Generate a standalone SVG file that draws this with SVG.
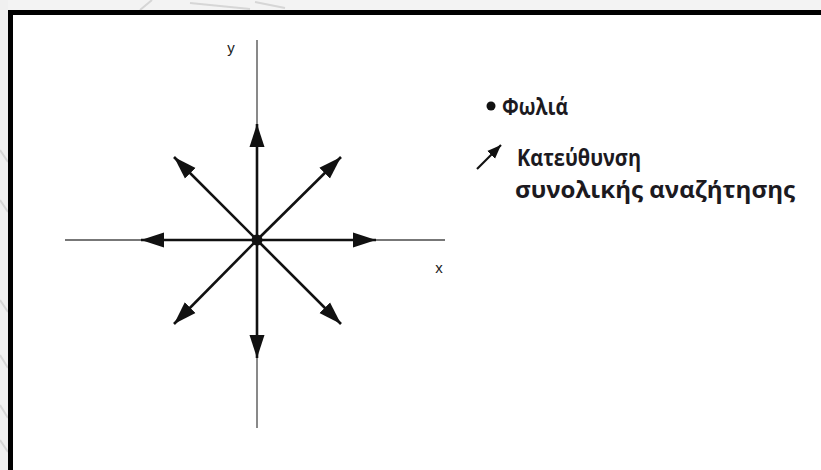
<svg xmlns="http://www.w3.org/2000/svg" width="821" height="470" viewBox="0 0 821 470">
  <defs>
    <style>
      .axis { stroke: #4a4a4a; stroke-width: 1.3; fill: none; }
      .dir { stroke: #111; stroke-width: 2.6; fill: none; marker-end: url(#head); }
      .lbl { font-family: "Liberation Sans", Arial, sans-serif; font-size: 15px; fill: #222; }
      .leg { font-family: "Open Sans", "Noto Sans", sans-serif; font-weight: 700; font-size: 23px; fill: #1c1a1f; }
      .bg { stroke: #d6d6d6; stroke-width: 2; fill: none; }
    </style>
    <marker id="head" markerUnits="userSpaceOnUse" markerWidth="24" markerHeight="16" viewBox="0 0 24 16" refX="23" refY="8" orient="auto">
      <path d="M0,0.5 L23,8 L0,15.5 Z" fill="#111"/>
    </marker>
    <marker id="headSmall" markerUnits="userSpaceOnUse" markerWidth="15" markerHeight="12" viewBox="0 0 15 12" refX="14" refY="6" orient="auto">
      <path d="M0,0.5 L14,6 L0,11.5 Z" fill="#111"/>
    </marker>
  </defs>

  <!-- page background outside the frame -->
  <rect x="0" y="0" width="821" height="470" fill="#ffffff"/>
  <rect x="0" y="0" width="821" height="10" fill="#f3f3f3"/>
  <rect x="0" y="0" width="8" height="470" fill="#f0f0f0"/>
  <g id="background-strokes">
    <path class="bg" d="M140,10 L152,0"/>
    <path class="bg" d="M190,3 L250,9"/>
    <path class="bg" d="M255,2 L285,8"/>
    <path class="bg" d="M0,150 L8,162"/>
    <path class="bg" d="M0,200 L8,212"/>
    <path class="bg" d="M0,300 L8,312"/>
    <path class="bg" d="M0,355 L8,368"/>
    <path class="bg" d="M0,405 L8,418"/>
    <path class="bg" d="M0,440 L8,452"/>
  </g>

  <!-- frame -->
  <g id="frame">
    <rect x="8" y="10" width="813" height="5" fill="#000"/>
    <rect x="8" y="10" width="5" height="460" fill="#000"/>
  </g>

  <!-- axes -->
  <g id="axes">
    <line class="axis" x1="257" y1="40" x2="257" y2="428"/>
    <line class="axis" x1="65" y1="240" x2="445" y2="240"/>
    <text class="lbl" x="231" y="53" text-anchor="middle">y</text>
    <text class="lbl" x="439" y="273" text-anchor="middle">x</text>
  </g>

  <!-- search directions -->
  <g id="connectors">
    <line class="dir" x1="257" y1="240" x2="257" y2="124"/>
    <line class="dir" x1="257" y1="240" x2="257" y2="358"/>
    <line class="dir" x1="257" y1="240" x2="141" y2="240"/>
    <line class="dir" x1="257" y1="240" x2="376" y2="240"/>
    <line class="dir" x1="257" y1="240" x2="341" y2="157"/>
    <line class="dir" x1="257" y1="240" x2="174" y2="157"/>
    <line class="dir" x1="257" y1="240" x2="174" y2="324"/>
    <line class="dir" x1="257" y1="240" x2="341" y2="324"/>
  </g>

  <g id="nest">
    <circle cx="257" cy="240" r="5.5" fill="#111"/>
  </g>

  <!-- legend -->
  <g id="legend-nest">
    <circle cx="491" cy="106" r="4.5" fill="#111"/>
    <text class="leg" x="502" y="115" textLength="66" lengthAdjust="spacingAndGlyphs">Φωλιά</text>
  </g>
  <g id="legend-direction">
    <line x1="477" y1="169" x2="501" y2="145" stroke="#111" stroke-width="2.2" marker-end="url(#headSmall)"/>
    <text class="leg" x="517" y="166" textLength="124" lengthAdjust="spacingAndGlyphs">Κατεύθυνση</text>
    <text class="leg" x="515" y="198" textLength="280" lengthAdjust="spacingAndGlyphs">συνολικής αναζήτησης</text>
  </g>
</svg>
